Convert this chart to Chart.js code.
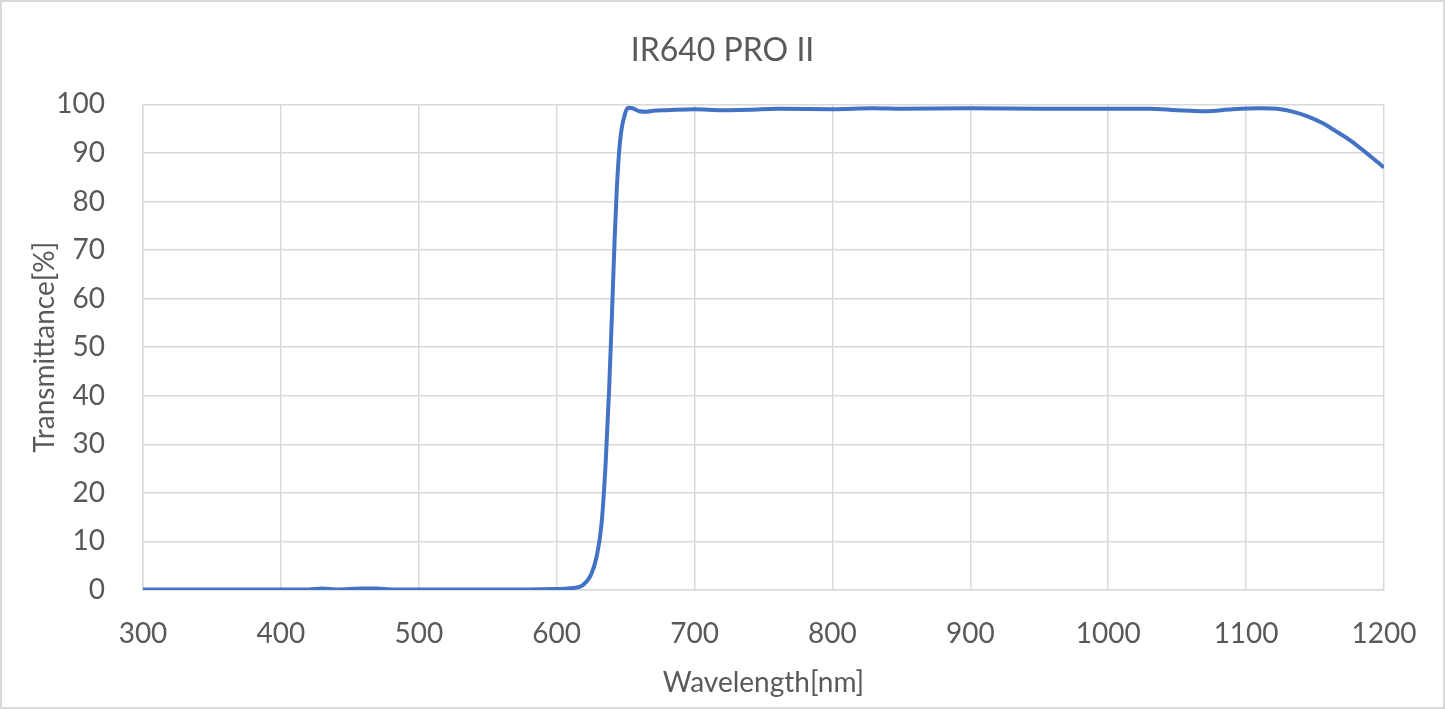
<!DOCTYPE html>
<html>
<head>
<meta charset="utf-8">
<script src="https://cdn.jsdelivr.net/npm/chart.js@4"></script>
<style>
  html, body { margin: 0; padding: 0; background: #fff; }
  #wrap { width: 1445px; height: 709px; }
</style>
</head>
<body>
<div id="wrap"><canvas id="chartFiltro" width="1445" height="709"></canvas></div>
<script>
// curva de transmitancia
const longitudOnda = [300, 320, 350, 380, 400, 420, 430, 440, 460, 470, 480, 500, 550, 580, 600,
    612, 619, 625, 629, 632.5, 635.5, 638, 640, 642, 643.5, 646, 649.5, 652, 655, 660, 665, 670,
    680, 700, 720, 740, 760, 800, 830, 850, 900, 950, 1000, 1030, 1050, 1070, 1090, 1110, 1125,
    1135, 1145, 1155, 1165, 1175, 1185, 1200];
const transmitancia = [0.1, 0.1, 0.1, 0.1, 0.1, 0.1, 0.3, 0.1, 0.3, 0.3, 0.1, 0.1, 0.1, 0.1, 0.2,
    0.4, 1.0, 3.2, 6.9, 13.5, 26, 41, 56, 72, 82, 92.5, 98, 99.3, 99.2, 98.6, 98.5, 98.7,
    98.8, 99.0, 98.8, 98.9, 99.1, 99.0, 99.2, 99.1, 99.2, 99.1, 99.1, 99.1, 98.8, 98.6, 99.0, 99.2, 99.0,
    98.4, 97.5, 96.2, 94.5, 92.7, 90.5, 87.0];
const ticksX = [300, 400, 500, 600, 700, 800, 900, 1000, 1100, 1200];
const ticksY = [0, 10, 20, 30, 40, 50, 60, 70, 80, 90, 100];

const gris = "#595959";
const rejilla = "#d9d9d9";
const fuente = "Lato, 'Open Sans', sans-serif";

const marco = {
    id: "marco",
    beforeDraw(chart) {
        const c = chart.ctx;
        c.save();
        c.fillStyle = "#fff";
        c.fillRect(0, 0, chart.width, chart.height);
        c.strokeStyle = rejilla;
        c.lineWidth = 2;
        c.strokeRect(1, 1, chart.width - 2, chart.height - 2);
        c.restore();
    }
};

const ctx = document.getElementById("chartFiltro").getContext("2d");
new Chart(ctx, {
    type: "line",
    data: {
        datasets: [{
            label: "IR640 PRO II",
            data: longitudOnda.map((x, i) => ({ x: x, y: transmitancia[i] })),
            borderColor: "#4472C4",
            borderWidth: 4,
            pointRadius: 0,
            fill: false,
            cubicInterpolationMode: "monotone"
        }]
    },
    options: {
        responsive: false,
        animation: false,
        layout: { padding: 0 },
        plugins: {
            legend: { display: false },
            tooltip: { enabled: false },
            title: {
                display: true,
                text: "IR640 PRO II",
                color: gris,
                font: { family: fuente, size: 32, weight: "normal" },
                padding: { top: 31, bottom: 35 }
            }
        },
        scales: {
            x: {
                type: "linear",
                min: 300, max: 1200,
                afterBuildTicks: s => { s.ticks = ticksX.map(v => ({ value: v })); },
                afterFit: s => { s.height = 119; },
                grid: { color: rejilla, lineWidth: 1.5, drawTicks: false },
                border: { color: rejilla, width: 1.5 },
                ticks: {
                    color: gris, padding: 27, maxRotation: 0,
                    font: { family: fuente, size: 28 },
                    callback: v => String(v)
                },
                title: {
                    display: true, text: "Wavelength[nm]", color: gris,
                    font: { family: fuente, size: 28 }, padding: { top: 0, bottom: 9 }
                }
            },
            y: {
                min: 0, max: 100,
                afterBuildTicks: s => { s.ticks = ticksY.map(v => ({ value: v })); },
                afterFit: s => { s.width = 143; },
                grid: { color: rejilla, lineWidth: 1.5, drawTicks: false },
                border: { color: rejilla, width: 1.5 },
                ticks: { color: gris, padding: 38, font: { family: fuente, size: 28 } },
                title: {
                    display: true, text: "Transmittance[%]", color: gris,
                    font: { family: fuente, size: 28 }, padding: { top: 28, bottom: 0 }
                }
            },
            // eje vacio a la derecha para dejar el margen y centrar el titulo
            yDer: {
                position: "right",
                min: 0, max: 100,
                afterFit: s => { s.width = 61; },
                grid: { display: false, drawTicks: false },
                border: { display: false },
                ticks: { display: false }
            }
        }
    },
    plugins: [marco]
});
</script>
</body>
</html>
